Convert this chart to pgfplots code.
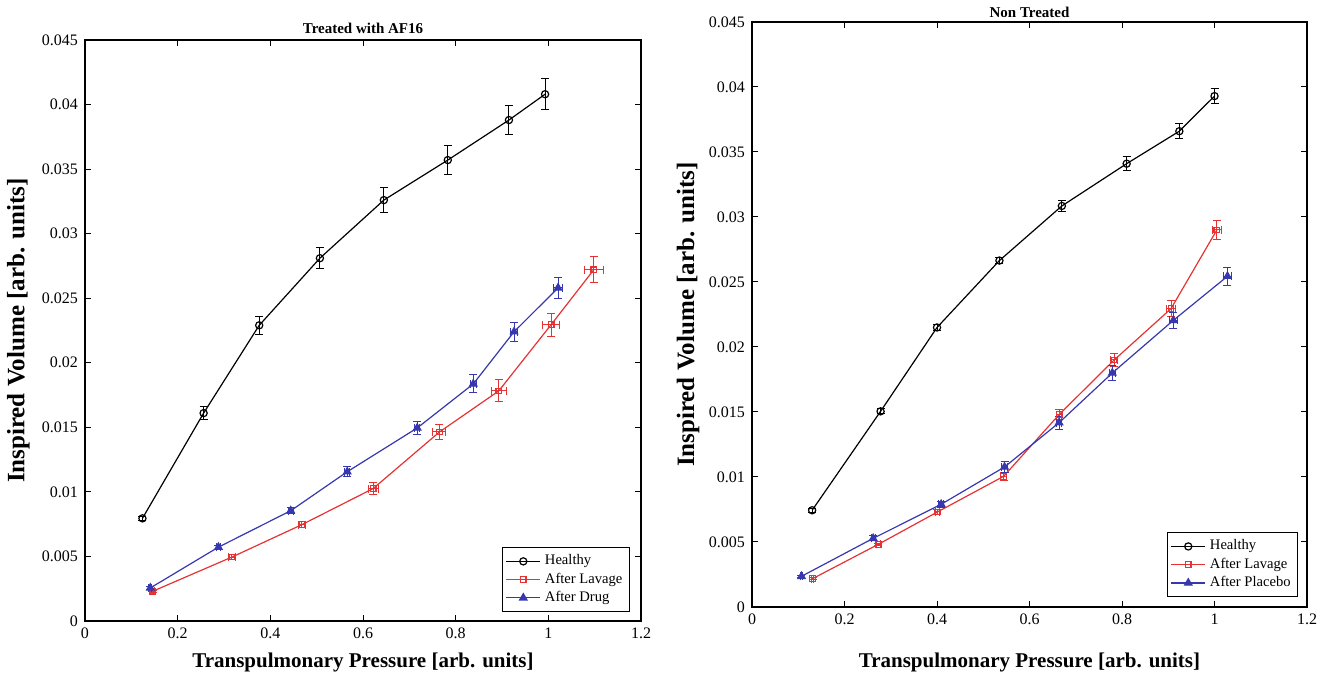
\documentclass[border=0pt]{standalone}
\usepackage{fontspec}
\setmainfont{Liberation Serif}
\usepackage{pgfplots}
\pgfplotsset{compat=1.18}

\definecolor{mred}{RGB}{230,50,50}
\definecolor{mblue}{RGB}{55,55,175}

\pgfplotsset{
  lungaxis/.style={
    scale only axis,
    xmin=0, xmax=1.2, ymin=0, ymax=0.045,
    xtick={0,0.2,...,1.2},
    ytick={0,0.005,...,0.045},
    scaled y ticks=false,
    yticklabel style={/pgf/number format/.cd, fixed, precision=3},
    xticklabel style={/pgf/number format/.cd, fixed, precision=1},
    /pgf/number format/assume math mode=true,
    tick label style={font=\rmfamily\fontsize{8}{9}\selectfont},
    tick align=inside,
    major tick length=3pt,
    axis line style={line width=0.6pt},
    tick style={line width=0.5pt, black},
    xlabel={Transpulmonary Pressure [arb. units]},
    ylabel={Inspired Volume [arb. units]},
    xlabel style={font=\bfseries\fontsize{10.5}{12}\selectfont},
    ylabel style={font=\bfseries\fontsize{12.5}{14}\selectfont},
    title style={font=\bfseries\fontsize{7.5}{9}\selectfont, yshift=-6pt},
    legend style={font=\fontsize{7.3}{8.5}\selectfont, draw=black, line width=0.5pt,
      inner sep=1.5pt, row sep=-1.5pt, legend cell align=left},
    legend image post style={line width=0.6pt},
    every axis plot/.append style={line width=0.6pt},
    error bars/error bar style={line width=0.5pt},
    error bars/error mark options={rotate=90, mark size=2pt, line width=0.5pt},
  },
  healthy/.style={black, mark=o, mark size=1.8pt, mark options={solid}},
  lavage/.style={mred, mark=square, mark size=1.4pt, mark options={solid}},
  drug/.style={mblue, mark=triangle*, mark size=2.1pt, mark options={solid}},
}

\begin{document}
\begin{tikzpicture}
\useasboundingbox (0,0) rectangle (664pt,339.5pt);

% left panel
\begin{axis}[lungaxis,
  at={(42.5pt,29pt)}, anchor=south west,
  width=278pt, height=290.5pt,
  title={Treated with AF16},
  title style={at={(axis description cs:0.5,1.011)}, anchor=base},
  xlabel style={at={(axis description cs:0.5,-0.072)}, anchor=center},
  ylabel style={at={(axis description cs:-0.12,0.5)}, anchor=center},
  legend style={at={(rel axis cs:0.98,0.0155)}, anchor=south east},
]
\addplot[healthy, error bars/.cd, y dir=both, y explicit] coordinates {
  (0.124,0.00795) +- (0,0.00015)
  (0.256,0.0161)  +- (0,0.0005)
  (0.376,0.0229)  +- (0,0.0007)
  (0.507,0.0281)  +- (0,0.0008)
  (0.645,0.0326)  +- (0,0.00095)
  (0.783,0.0357)  +- (0,0.0011)
  (0.915,0.0388)  +- (0,0.00115)
  (0.993,0.0408)  +- (0,0.0012)
};
\addlegendentry{Healthy}
\addplot[lavage, error bars/.cd, x dir=both, x explicit, y dir=both, y explicit] coordinates {
  (0.146,0.0023)  +- (0.004,0.0001)
  (0.317,0.00495) +- (0.007,0.0002)
  (0.468,0.00746) +- (0.0075,0.00025)
  (0.622,0.01026) +- (0.011,0.0005)
  (0.765,0.01464) +- (0.014,0.0006)
  (0.893,0.01782) +- (0.016,0.00085)
  (1.006,0.02295) +- (0.018,0.0009)
  (1.098,0.0272)  +- (0.021,0.001)
};
\addlegendentry{After Lavage}
\addplot[drug, error bars/.cd, x dir=both, x explicit, y dir=both, y explicit] coordinates {
  (0.141,0.00256) +- (0.003,0.0001)
  (0.288,0.00572) +- (0.004,0.00015)
  (0.444,0.00854) +- (0.005,0.00025)
  (0.566,0.01156) +- (0.005,0.0004)
  (0.717,0.01495) +- (0.006,0.0005)
  (0.838,0.01836) +- (0.006,0.0007)
  (0.926,0.0224)  +- (0.007,0.00075)
  (1.021,0.0258)  +- (0.009,0.0008)
};
\addlegendentry{After Drug}
\end{axis}

% right panel
\begin{axis}[lungaxis,
  at={(376pt,36pt)}, anchor=south west,
  width=277.5pt, height=292.5pt,
  title={Non Treated},
  title style={at={(axis description cs:0.5,1.008)}, anchor=base},
  xlabel style={at={(axis description cs:0.5,-0.094)}, anchor=center},
  ylabel style={at={(axis description cs:-0.115,0.5)}, anchor=center},
  legend style={at={(rel axis cs:0.984,0.017)}, anchor=south east},
]
\addplot[healthy, error bars/.cd, y dir=both, y explicit] coordinates {
  (0.130,0.00744) +- (0,0.00015)
  (0.278,0.01505) +- (0,0.0002)
  (0.400,0.0215)  +- (0,0.0002)
  (0.535,0.02665) +- (0,0.00025)
  (0.670,0.03085) +- (0,0.00045)
  (0.810,0.0341)  +- (0,0.00055)
  (0.924,0.0366)  +- (0,0.0006)
  (1.000,0.0393)  +- (0,0.00055)
};
\addlegendentry{Healthy}
\addplot[lavage, error bars/.cd, x dir=both, x explicit, y dir=both, y explicit] coordinates {
  (0.131,0.00218) +- (0.003,0.0001)
  (0.273,0.00482) +- (0.004,0.0001)
  (0.401,0.00731) +- (0.005,0.0002)
  (0.544,0.01005) +- (0.006,0.0003)
  (0.664,0.0148)  +- (0.006,0.0004)
  (0.783,0.0190)  +- (0.008,0.0005)
  (0.906,0.02295) +- (0.009,0.0006)
  (1.005,0.0290)  +- (0.010,0.0007)
};
\addlegendentry{After Lavage}
\addplot[drug, error bars/.cd, x dir=both, x explicit, y dir=both, y explicit] coordinates {
  (0.107,0.00236) +- (0.003,0.0001)
  (0.262,0.00528) +- (0.004,0.0002)
  (0.409,0.0079)  +- (0.005,0.00025)
  (0.546,0.01077) +- (0.006,0.0004)
  (0.664,0.01418) +- (0.006,0.0005)
  (0.779,0.0180)  +- (0.007,0.00058)
  (0.911,0.02205) +- (0.008,0.00064)
  (1.028,0.02544) +- (0.008,0.00068)
};
\addlegendentry{After Placebo}
\end{axis}
\end{tikzpicture}
\end{document}
